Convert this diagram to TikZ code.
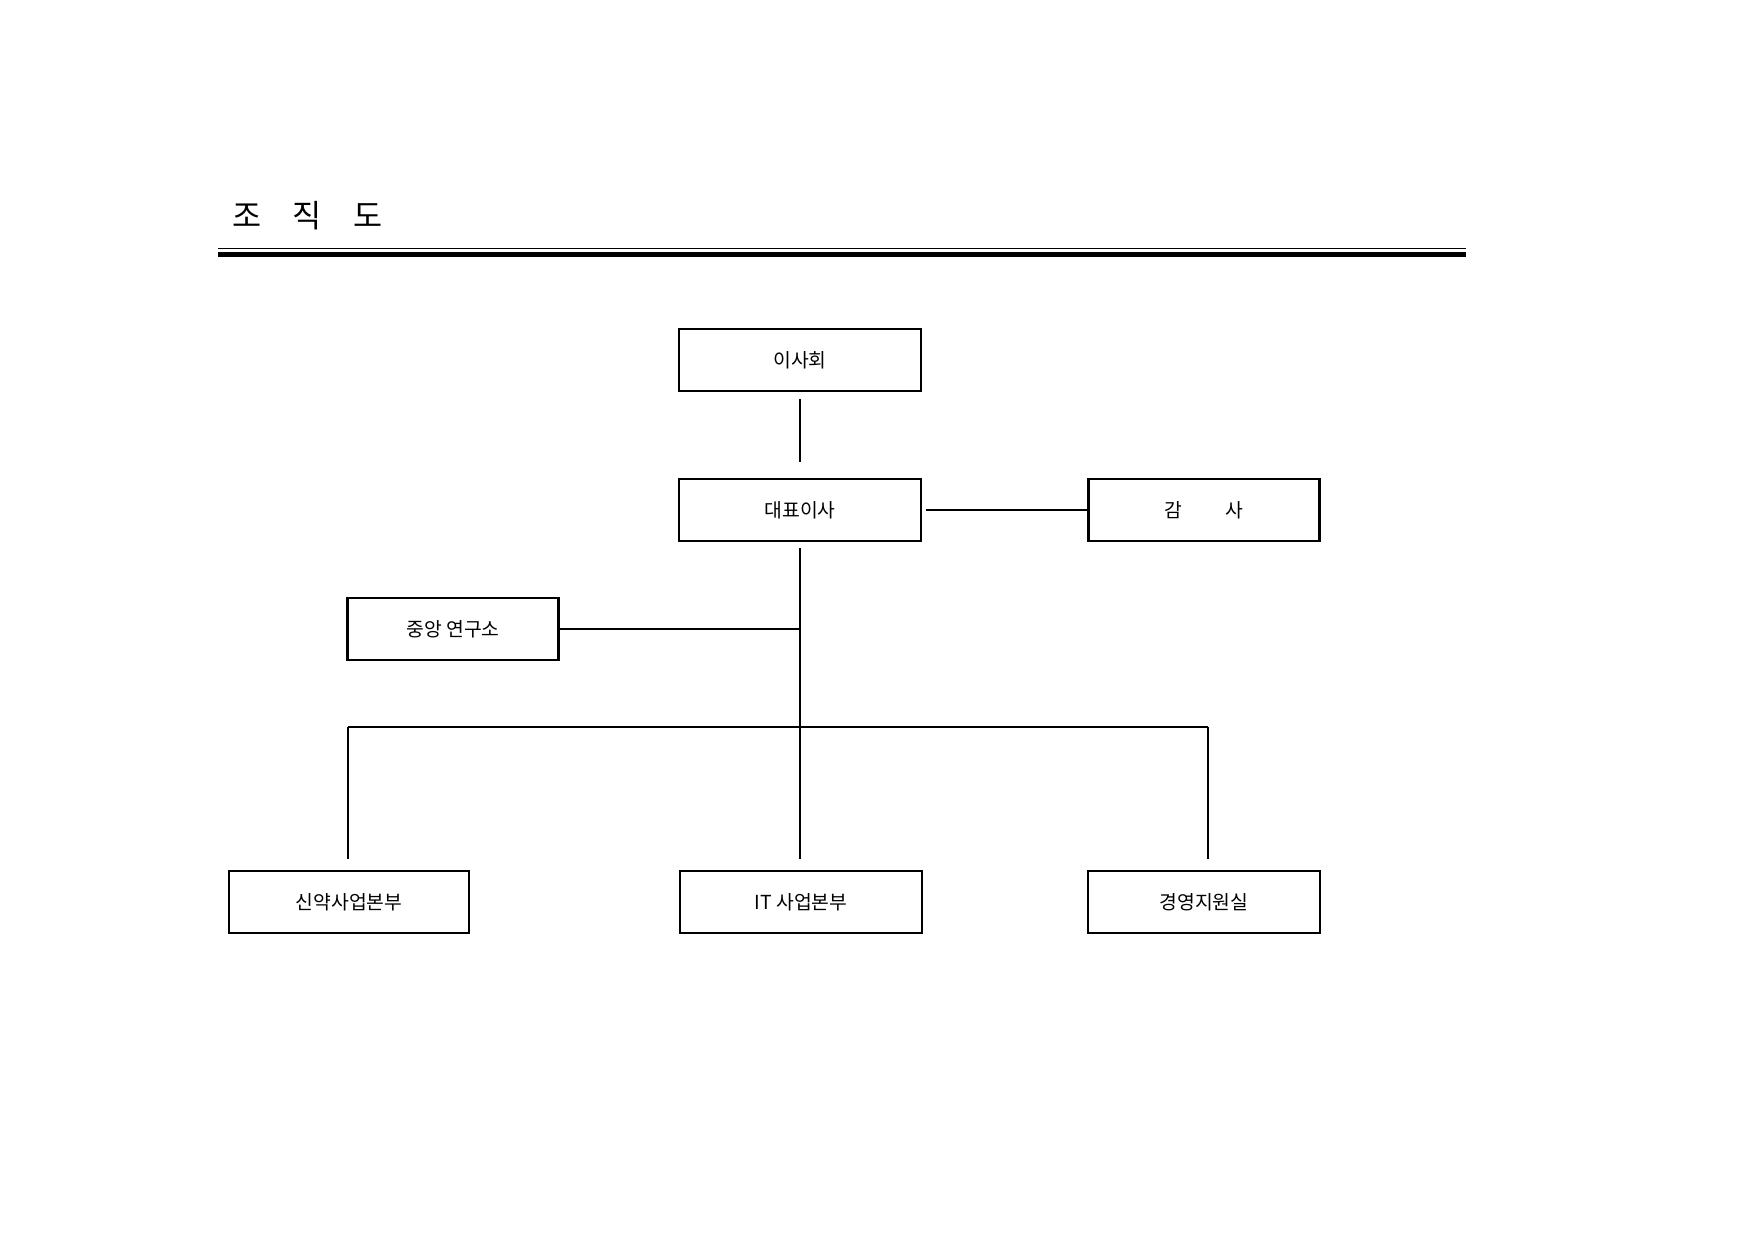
\documentclass[tikz,border=0pt]{standalone}
\usepackage{fontspec}
\newfontfamily\kr{Noto Sans CJK KR}
\begin{document}
\begin{tikzpicture}[x=0.02cm,y=-0.02cm,
  box/.style={draw,line width=1.6pt,minimum height=0.02cm*62,inner sep=0pt,font=\kr\fontsize{11}{13}\selectfont},
  conn/.style={line width=0.7pt}]
\useasboundingbox (0,0) rectangle (1754,1240);
\node[font=\kr\fontsize{18}{20}\selectfont,anchor=west] (title) at (226,216) {조\hspace{1em}직\hspace{1em}도};
\draw[line width=0.6pt] (218,248.5) -- (1466,248.5);
\draw[line width=2.4pt] (218,254.5) -- (1466,254.5);
\node[box,minimum width=0.02cm*242] (isa) at (800,360) {이사회};
\node[box,minimum width=0.02cm*242] (ceo) at (800,510) {대표이사};
\node[box,minimum width=0.02cm*231] (gam) at (1204,510) {감\hspace{2.2em}사};
\node[box,minimum width=0.02cm*211] (lab) at (453,629) {중앙 연구소};
\node[box,minimum width=0.02cm*240] (d1) at (349,902) {신약사업본부};
\node[box,minimum width=0.02cm*242] (d2) at (801,902) {IT 사업본부};
\node[box,minimum width=0.02cm*232] (d3) at (1204,902) {경영지원실};
\draw[conn,shorten <=4pt,shorten >=9pt] (isa.south) -- (ceo.north);
\draw[conn,shorten <=2pt] (ceo.east) -- (gam.west);
\coordinate (j) at (800,629);
\coordinate (h) at (800,727);
\coordinate (hl) at (348,727);
\coordinate (hr) at (1208,727);
\draw[conn,shorten <=3pt] (ceo.south) -- (j) -- (h);
\draw[conn] (lab.east) -- (j);
\draw[conn] (hl) -- (hr);
\draw[conn,shorten >=6pt] (hl) -- (hl |- d1.north);
\draw[conn,shorten >=6pt] (h) -- (h |- d2.north);
\draw[conn,shorten >=6pt] (hr) -- (hr |- d3.north);
\end{tikzpicture}
\end{document}
